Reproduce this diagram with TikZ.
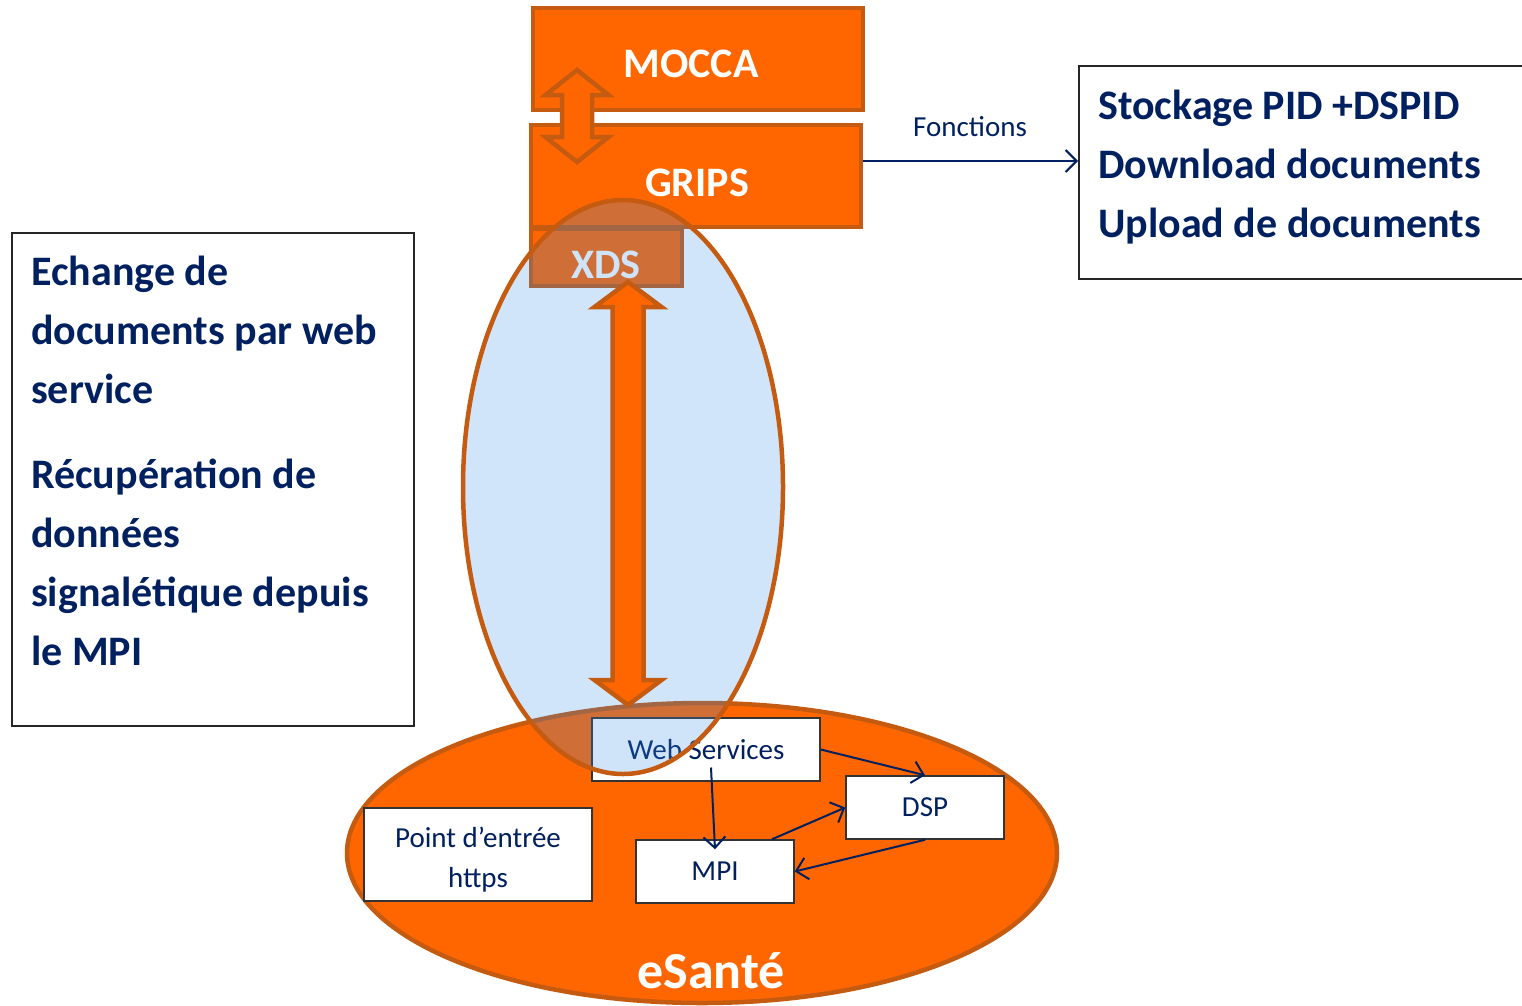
\documentclass[tikz,border=0pt]{standalone}
\usepackage{fontspec}
\setmainfont{Carlito}
\usepackage{tikz}
\usetikzlibrary{calc}
\usetikzlibrary{positioning}
\usetikzlibrary{shapes.geometric}
\usetikzlibrary{arrows.meta}

\definecolor{orangefill}{RGB}{255,102,0}
\definecolor{orangeline}{RGB}{197,90,17}
\definecolor{navy}{RGB}{0,32,96}
\definecolor{skyblue}{RGB}{58,142,233}

\begin{document}
\begin{tikzpicture}[x=1pt, y=-1pt,
    orangebox/.style={rectangle, draw=orangeline, fill=orangefill, line width=4pt},
    orangetext/.style={text=white, font=\fontsize{42}{50}\selectfont\bfseries},
    whitebox/.style={rectangle, draw=black!80, fill=white, line width=1.5pt, text=navy, font=\fontsize{29}{40}\selectfont, align=center},
    textbox/.style={rectangle, draw=black!85, fill=white, line width=1.5pt},
    bigtext/.style={text=navy, font=\fontsize{42}{59}\selectfont\bfseries, align=left, inner sep=0pt},
    navyarrow/.style={-{Straight Barb[length=11pt, width=22pt]}, draw=navy, line width=2pt},
    fatarrow/.style={draw=orangeline, fill=orangefill, line width=4.5pt, line join=miter}]
    \useasboundingbox (0,0) rectangle (1522,1005);

    % eSante and its services
    \node[ellipse, draw=orangeline, fill=orangefill, line width=4.5pt, minimum width=710pt, minimum height=300pt] (esante) at (702,853) {};
    \node[whitebox, minimum width=228pt, minimum height=63pt] (ws) at (706,749.5) {Web Services};
    \node[whitebox, minimum width=158pt, minimum height=63pt] (dsp) at (925,807.5) {DSP};
    \node[whitebox, minimum width=158pt, minimum height=63pt] (mpi) at (715,871.5) {MPI};
    \node[whitebox, minimum width=228pt, minimum height=93pt] (entree) at (478,854.5) {};
    \node[whitebox, draw=none, fill=none] (entreetext) at (478,860) {Point d’entrée\\https};

    \draw[navyarrow] (ws.east) -- (dsp.north);
    \draw[navyarrow] ([shift={(5,18)}]ws.center) -- ([yshift=-10pt]mpi.north);
    \draw[navyarrow] ([xshift=57pt]mpi.north) -- (dsp.west);
    \draw[navyarrow] (dsp.south) -- (mpi.east);

    % top blocks
    \node[orangebox, minimum width=330pt, minimum height=102pt] (mocca) at (698,59) {};
    \node[orangebox, minimum width=330pt, minimum height=102pt] (grips) at (696,176) {};
    \node[orangebox, minimum width=151pt, minimum height=57pt] (xds) at (606.5,257) {};
    \node[orangetext] (moccatext) at (691,64) {MOCCA};
    \node[orangetext] (gripstext) at (697,183) {GRIPS};
    \node[orangetext] (xdstext) at (606,265) {XDS};

    \draw[fatarrow] (577,70) -- ++(31.5,25) -- ++(-16.5,0) -- ++(0,42) -- ++(16.5,0) -- ++(-31.5,25)
        -- ++(-31.5,-25) -- ++(16.5,0) -- ++(0,-42) -- ++(-16.5,0) -- cycle;

    % web service zone
    \node[ellipse, draw=orangeline, fill=skyblue, fill opacity=0.24, line width=4.5pt, minimum width=320pt, minimum height=574pt] (zone) at (623,487) {};

    \coordinate (xdstip) at (628,282);
    \draw[fatarrow] (xdstip) -- ++(33.5,25) -- ++(-18,0) -- ++(0,373) -- ++(18,0) -- ++(-33.5,25)
        -- ++(-33.5,-25) -- ++(18,0) -- ++(0,-373) -- ++(-18,0) -- cycle;

    \node[text=white, font=\fontsize{52}{60}\selectfont\bfseries] (esantelabel) at (711,971) {eSanté};

    % left description
    \node[textbox, minimum width=402pt, minimum height=493pt, anchor=north west] (descbox) at (11,232) {};
    \node[bigtext, anchor=west] (desc) at (31,461) {Echange de\\documents par web\\service\\[26pt]Récupération de\\données\\signalétique depuis\\le MPI};

    % functions
    \node[textbox, minimum width=470pt, minimum height=213pt, anchor=north west] (funcs) at (1078,65) {};
    \node[bigtext, anchor=west] (funcstext) at (1098,167) {Stockage PID +DSPID\\Download documents\\Upload de documents};

    \coordinate (fstart) at ([yshift=15pt]grips.east);
    \draw[navyarrow] (fstart) -- (fstart -| funcs.west);
    \node[text=navy, font=\fontsize{29}{35}\selectfont] (fonctions) at (970,127) {Fonctions};
\end{tikzpicture}
\end{document}
